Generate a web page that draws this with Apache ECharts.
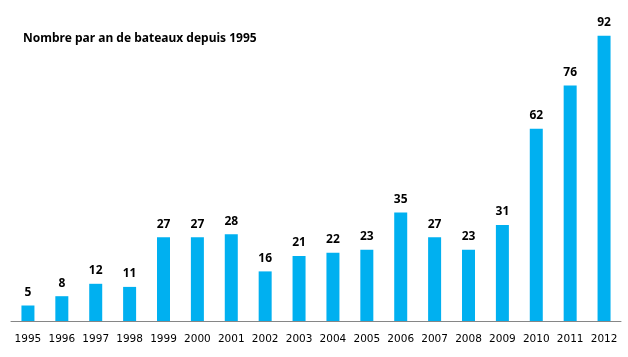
<!DOCTYPE html>
<html><head><meta charset="utf-8">
<script src="https://cdn.jsdelivr.net/npm/echarts@6/dist/echarts.min.js"></script>
<style>html,body{margin:0;padding:0;background:#fff}#c{width:628px;height:357px}</style>
</head><body><div id="c"></div>
<script>
const categories = ['1995','1996','1997','1998','1999','2000','2001','2002','2003','2004','2005','2006','2007','2008','2009','2010','2011','2012'];
const values = [5,8,12,11,27,27,28,16,21,22,23,35,27,23,31,62,76,92];
const titleText = 'Nombre par an de bateaux depuis 1995';
const chart = echarts.init(document.getElementById('c'));
chart.setOption({
  animation: false,
  title: { text: titleText, left: 23, top: 33, padding: 0, textStyle: { fontFamily: 'Noto Sans', fontWeight: 'bold', fontSize: 12, color: '#000' } },
  grid: { left: 11, right: 7, top: 11, bottom: 36 },
  xAxis: { type: 'category', data: categories,
    axisLine: { lineStyle: { color: '#868686' } },
    axisTick: { length: 4, lineStyle: { color: '#868686' } },
    axisLabel: { interval: 0, fontFamily: 'DejaVu Sans', fontSize: 10.5, color: '#000', margin: 13 } },
  yAxis: { type: 'value', min: 0, max: 100, show: false, splitLine: { show: false } },
  series: [{ type: 'bar', data: values, barWidth: 13,
    itemStyle: { color: '#00B0F0' },
    label: { show: true, position: 'top', distance: 7, fontFamily: 'Noto Sans', fontWeight: 'bold', fontSize: 12, color: '#000' } }]
});
</script></body></html>
